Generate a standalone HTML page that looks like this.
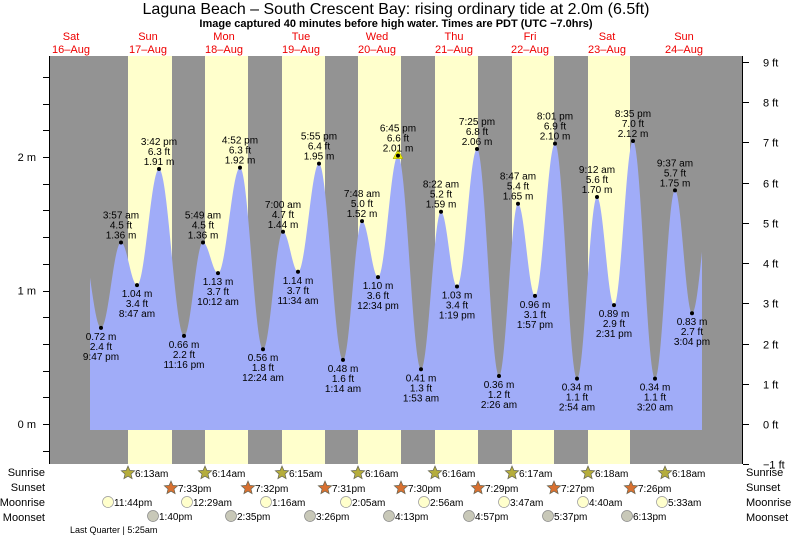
<!DOCTYPE html>
<html><head><meta charset="utf-8"><style>
body{margin:0;background:#fff}
svg{display:block;font-family:"Liberation Sans",sans-serif}
</style></head><body>
<svg id="s" width="793" height="537" viewBox="0 0 793 537" xmlns="http://www.w3.org/2000/svg">
<text x="396" y="14" font-size="16" text-anchor="middle">Laguna Beach – South Crescent Bay: rising  ordinary tide at 2.0m (6.5ft)</text>
<text x="396" y="27" font-size="11" font-weight="bold" text-anchor="middle">Image captured 40 minutes before high water. Times are PDT (UTC −7.0hrs)</text>
<rect x="49" y="56" width="694" height="408" fill="#939393"/>
<g id="days" fill="#ffffcc"></g>
<path id="tide" fill="#a0acf8"/>
<g id="lbl" font-size="10" text-anchor="middle" fill="#000"></g>
<g id="ax" stroke="#000" stroke-width="1"></g>
<g id="axt" font-size="11"></g>
<g id="bot" font-size="11"></g>
</svg>
<script>
const NS="http://www.w3.org/2000/svg";
function el(p,t,a,txt){const e=document.createElementNS(NS,t);for(const k in a)e.setAttribute(k,a[k]);if(txt!=null)e.textContent=txt;document.getElementById(p).appendChild(e);return e;}
const Y=m=>424-133.5*m;
// day bands
[[128,172],[205,248],[282,325],[358,401],[435,478],[512,554],[588,630]].forEach(d=>el('days','rect',{x:d[0],y:56,width:d[1]-d[0],height:408}));
// day labels
const dl=[["Sat","16–Aug",71],["Sun","17–Aug",148],["Mon","18–Aug",224],["Tue","19–Aug",301],["Wed","20–Aug",377],["Thu","21–Aug",454],["Fri","22–Aug",530],["Sat","23–Aug",607],["Sun","24–Aug",684]];
dl.forEach(d=>{el('axt','text',{x:d[2],y:40,fill:"#e00","text-anchor":"middle"},d[0]);el('axt','text',{x:d[2],y:53,fill:"#e00","text-anchor":"middle"},d[1]);});
// tide extrema
const P=[[80,1.42,0],[101,0.72,-1,"2.4 ft","9:47 pm"],[121,1.36,1,"4.5 ft","3:57 am"],[137,1.04,-1,"3.4 ft","8:47 am"],[159,1.91,1,"6.3 ft","3:42 pm"],
[184,0.66,-1,"2.2 ft","11:16 pm"],[203,1.36,1,"4.5 ft","5:49 am"],[218,1.13,-1,"3.7 ft","10:12 am"],[240,1.92,1,"6.3 ft","4:52 pm"],
[263,0.56,-1,"1.8 ft","12:24 am"],[283,1.44,1,"4.7 ft","7:00 am"],[298,1.14,-1,"3.7 ft","11:34 am"],[319,1.95,1,"6.4 ft","5:55 pm"],
[343,0.48,-1,"1.6 ft","1:14 am"],[362,1.52,1,"5.0 ft","7:48 am"],[378,1.10,-1,"3.6 ft","12:34 pm"],[398,2.01,1,"6.6 ft","6:45 pm"],
[421,0.41,-1,"1.3 ft","1:53 am"],[441,1.59,1,"5.2 ft","8:22 am"],[457,1.03,-1,"3.4 ft","1:19 pm"],[477,2.06,1,"6.8 ft","7:25 pm"],
[499,0.36,-1,"1.2 ft","2:26 am"],[518,1.65,1,"5.4 ft","8:47 am"],[535,0.96,-1,"3.1 ft","1:57 pm"],[555,2.10,1,"6.9 ft","8:01 pm"],
[577,0.34,-1,"1.1 ft","2:54 am"],[597,1.70,1,"5.6 ft","9:12 am"],[614,0.89,-1,"2.9 ft","2:31 pm"],[633,2.12,1,"7.0 ft","8:35 pm"],
[655,0.34,-1,"1.1 ft","3:20 am"],[675,1.75,1,"5.7 ft","9:37 am"],[692,0.83,-1,"2.7 ft","3:04 pm"],[712,1.75,0]];
function h(x){for(let i=0;i<P.length-1;i++){const a=P[i],b=P[i+1];if(x>=a[0]&&x<=b[0]){const t=(x-a[0])/(b[0]-a[0]);return a[1]+(b[1]-a[1])*(1-Math.cos(Math.PI*t))/2;}}return 0;}
let d="M90 430";for(let x=90;x<=702;x+=0.5)d+=" L"+x+" "+Y(h(x)).toFixed(2);d+=" L702 430 Z";
document.getElementById('tide').setAttribute('d',d);
P.forEach(p=>{if(!p[2])return;const x=p[0],y=Y(p[1]),m=p[1].toFixed(2)+" m";
 if(p[0]===398)el('lbl','polygon',{points:`${x-5},${y+3} ${x+5},${y+3} ${x},${y-6}`,fill:"#ee0",stroke:"#990","stroke-width":0.5});
 el('lbl','circle',{cx:x,cy:y,r:2,fill:"#000"});
 if(p[2]>0){el('lbl','text',{x:x,y:y-4},m);el('lbl','text',{x:x,y:y-14},p[3]);el('lbl','text',{x:x,y:y-24},p[4]);}
 else{el('lbl','text',{x:x,y:y+12},m);el('lbl','text',{x:x,y:y+22},p[3]);el('lbl','text',{x:x,y:y+32},p[4]);}
});
// axes
el('ax','line',{x1:49.5,y1:56,x2:49.5,y2:464});el('ax','line',{x1:742.5,y1:56,x2:742.5,y2:464});
for(let m=-0.2;m<=2.8;m+=0.2){const y=Math.round(Y(m))+0.5;if(y<56||y>464)continue;el('ax','line',{x1:43,y1:y,x2:49,y2:y});}
[[0,"0 m"],[1,"1 m"],[2,"2 m"]].forEach(a=>el('axt','text',{x:36,y:Y(a[0])+4,"text-anchor":"end"},a[1]));
for(let f=-1;f<=9;f++){const y=Math.round(424-40.25*f)+0.5;el('ax','line',{x1:743,y1:y,x2:749,y2:y});el('axt','text',{x:763,y:y+4},(f<0?"−1":f)+" ft");}
// bottom rows
[["Sunrise",476],["Sunset",491],["Moonrise",506],["Moonset",521]].forEach(r=>{el('bot','text',{x:45,y:r[1],"text-anchor":"end"},r[0]);el('bot','text',{x:746,y:r[1]},r[0]);});
function star(x,y,c){let pts="";for(let i=0;i<10;i++){const r=i%2?3.2:7,a=-Math.PI/2+i*Math.PI/5;pts+=(x+r*Math.cos(a)).toFixed(1)+","+(y+r*Math.sin(a)).toFixed(1)+" ";}el('bot','polygon',{points:pts,fill:c,stroke:"#665","stroke-width":0.7});}
const sr=[[128,"6:13am"],[205,"6:14am"],[282,"6:15am"],[358,"6:16am"],[435,"6:16am"],[512,"6:17am"],[588,"6:18am"],[665,"6:18am"]];
sr.forEach(s=>{star(s[0],473,"#b5ad3c");el('bot','text',{x:s[0]+7,y:477,"font-size":10},s[1]);});
const ss=[[171,"7:33pm"],[248,"7:32pm"],[325,"7:31pm"],[401,"7:30pm"],[478,"7:29pm"],[554,"7:27pm"],[631,"7:26pm"]];
ss.forEach(s=>{star(s[0],488,"#d87030");el('bot','text',{x:s[0]+7,y:492,"font-size":10},s[1]);});
const mr=[[108,"11:44pm"],[187,"12:29am"],[266,"1:16am"],[346,"2:05am"],[424,"2:56am"],[504,"3:47am"],[583,"4:40am"],[662,"5:33am"]];
mr.forEach(s=>{el('bot','circle',{cx:s[0],cy:502,r:5.5,fill:"#ffffcc",stroke:"#999","stroke-width":0.7});el('bot','text',{x:s[0]+6,y:506,"font-size":10},s[1]);});
const ms=[[153,"1:40pm"],[231,"2:35pm"],[310,"3:26pm"],[389,"4:13pm"],[469,"4:57pm"],[548,"5:37pm"],[627,"6:13pm"]];
ms.forEach(s=>{el('bot','circle',{cx:s[0],cy:516,r:5.5,fill:"#c8c8b8",stroke:"#888","stroke-width":0.7});el('bot','text',{x:s[0]+6,y:520,"font-size":10},s[1]);});
el('bot','text',{x:70,y:533,"font-size":9},"Last Quarter | 5:25am");
</script>
</body></html>
